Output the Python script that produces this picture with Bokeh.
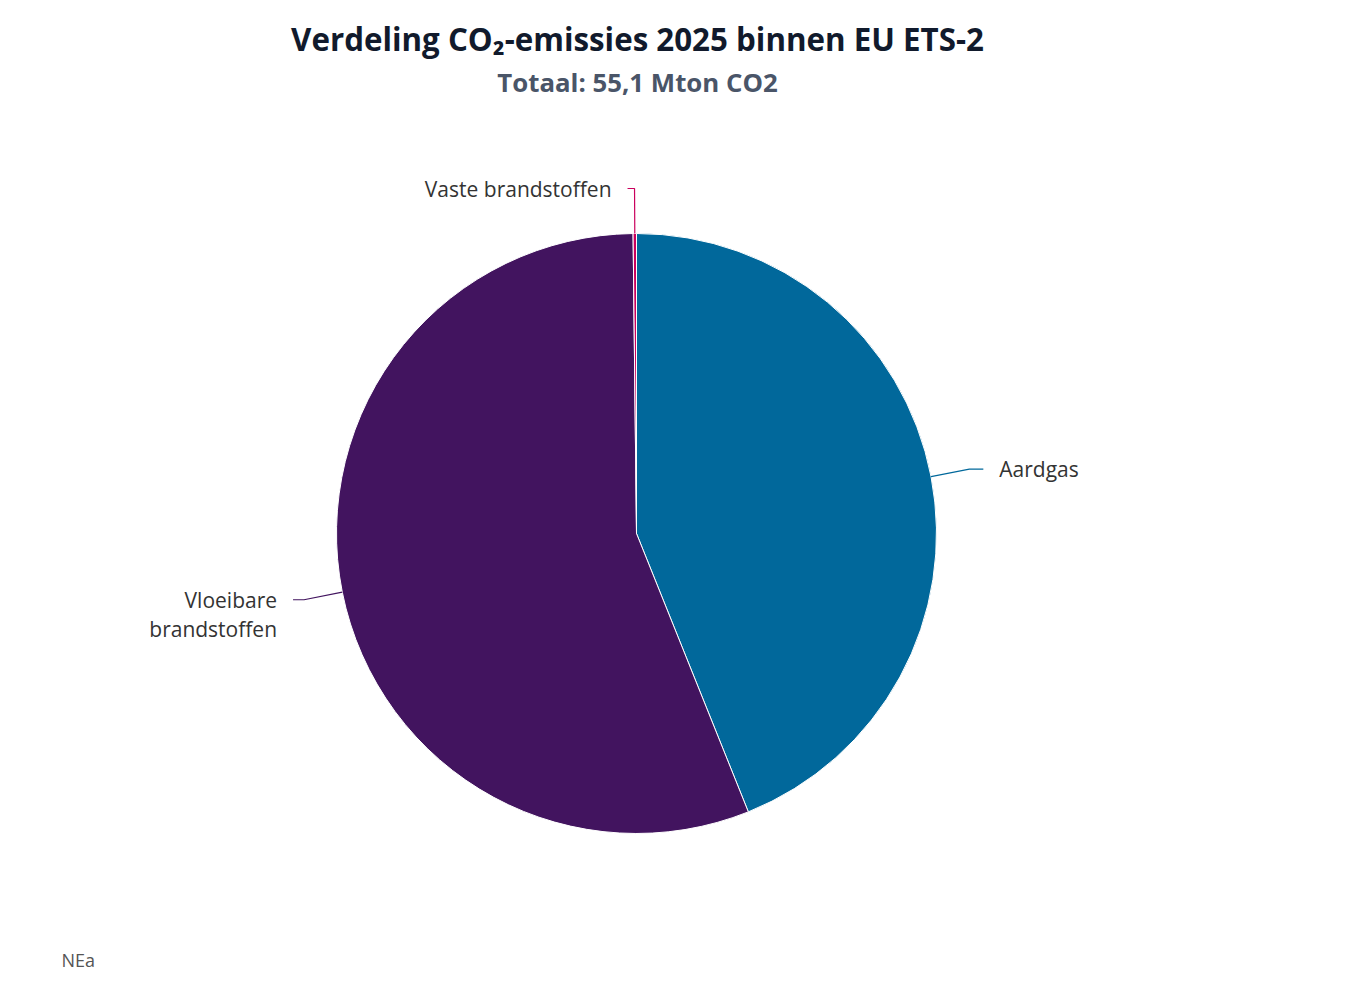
import math
from bokeh.plotting import figure
from bokeh.models import Range1d, ColumnDataSource
from bokeh.core.properties import value
from bokeh.embed import file_html
from bokeh.resources import INLINE

# ---- data ----
categories = ["Aardgas", "Vloeibare\nbrandstoffen", "Vaste brandstoffen"]
emissions = [24.2, 30.8, 0.1]          # Mton CO2
colors = ["#01689B", "#42145F", "#CA005D"]
title_text = "Verdeling CO\u2082-emissies 2025 binnen EU ETS-2"
subtitle_text = "Totaal: 55,1 Mton CO2"
credit_text = "NEa"

# ---- layout ----
W, H = 1353, 972
cx, cy, r = 636, 439, 300
label_dist = [39, 39, 45]
hooks = [14, 11, 7]
gap = 16
font = "Open Sans"

p = figure(width=W, height=H, x_range=Range1d(0, W), y_range=Range1d(0, H),
           x_axis_type=None, y_axis_type=None, toolbar_location=None,
           output_backend="svg", min_border=0, outline_line_color=None,
           background_fill_color="white", border_fill_color="white")
p.grid.visible = False

total = sum(emissions)
starts, ends, mids = [], [], []
cum = 0.0
for v in emissions:
    a0 = cum / total * 2 * math.pi
    cum += v
    a1 = cum / total * 2 * math.pi
    starts.append(math.pi / 2 - a0)
    ends.append(math.pi / 2 - a1)
    mids.append((a0 + a1) / 2)

src = ColumnDataSource(dict(start=starts, end=ends, color=colors))
p.wedge(x=cx, y=cy, radius=r, start_angle="start", end_angle="end",
        direction="clock", fill_color="color", line_color="white",
        line_width=1, source=src)

# connectors + labels
for name, col, m, d, hook in zip(categories, colors, mids, label_dist, hooks):
    sx, sy = math.sin(m), math.cos(m)
    ex, ey = cx + r * sx, cy + r * sy
    bx, by = cx + (r + d) * sx, cy + (r + d) * sy
    side = 1 if sx >= 0 else -1
    hx = bx + side * hook
    p.line([ex, bx, hx], [ey, by, by], line_color=col, line_width=1.2)
    lines = name.split("\n")
    for i, ln in enumerate(lines):
        p.text(x=[hx + side * gap], y=[by - i * 29], text=[ln],
               text_font=value(font), text_font_size="21px",
               text_color="#333333", text_baseline="middle",
               text_align="left" if side > 0 else "right")

p.text(x=[637], y=[H - 38], text=[title_text], text_font=value(font),
       text_font_style="bold", text_font_size="31.3px", text_color="#111a2c",
       text_align="center", text_baseline="middle")
p.text(x=[637], y=[H - 81], text=[subtitle_text], text_font=value(font),
       text_font_style="bold", text_font_size="25.8px", text_color="#4a5568",
       text_align="center", text_baseline="middle")
p.text(x=[61], y=[H - 959], text=[credit_text], text_font=value(font),
       text_font_size="18px", text_color="#555555",
       text_align="left", text_baseline="middle")

open("out.html", "w").write(file_html(p, INLINE))
